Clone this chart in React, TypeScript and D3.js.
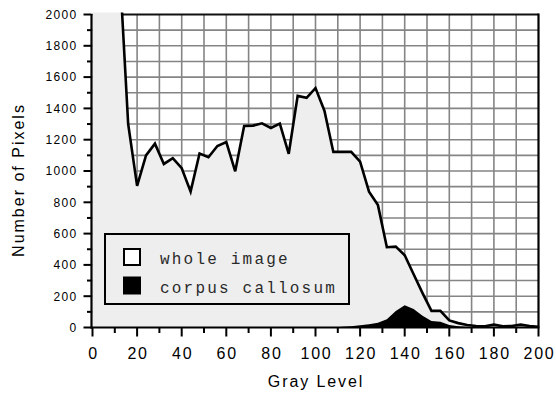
import React from "react";
import * as d3 from "d3";

const grayLevels = d3.range(0, 201, 4);
const wholeImage = [
  9000, 7000, 4500, 2340, 1300, 905, 1100, 1175, 1045, 1082, 1018, 868, 1112,
  1088, 1160, 1185, 998, 1288, 1290, 1305, 1275, 1303, 1110, 1480, 1468, 1530,
  1385, 1122, 1122, 1122, 1060, 868, 782, 513, 517, 462, 340, 220, 106, 106, 45,
  28, 16, 10, 8, 18, 8, 10, 18, 10, 5,
];
const corpusCallosum = [
  0, 0, 0, 0, 0, 0, 0, 0, 0, 0, 0, 0, 0, 0, 0, 0, 0, 0, 0, 0, 0, 0, 0, 0, 0, 0,
  0, 0, 4, 8, 14, 20, 30, 52, 105, 142, 118, 75, 42, 36, 16, 8, 3, 0, 0, 0, 0,
  0, 0, 0, 0,
];
const xTicksMajor = [0, 20, 40, 60, 80, 100, 120, 140, 160, 180, 200];
const yTicksMajor = [0, 200, 400, 600, 800, 1000, 1200, 1400, 1600, 1800, 2000];
const legendLabels = ["whole image", "corpus callosum"];

export default function App() {
  const W = 556,
    H = 395;
  const x = d3.scaleLinear().domain([0, 200]).range([92.5, 538.5]);
  const y = d3.scaleLinear().domain([0, 2000]).range([327.5, 14.5]);
  const whole = grayLevels.map((g, i) => [g, wholeImage[i]] as [number, number]);
  const corpus = grayLevels.map((g, i) => [g, corpusCallosum[i]] as [number, number]);
  const area = d3
    .area<[number, number]>()
    .x((d) => x(d[0]))
    .y0(y(0))
    .y1((d) => y(d[1]));
  const line = d3
    .line<[number, number]>()
    .x((d) => x(d[0]))
    .y((d) => y(d[1]));
  const xMinor = d3.range(0, 201, 10);
  const yMinor = d3.range(0, 2001, 100);
  const gridX = d3.range(10, 200, 10);
  const gridY = d3.range(100, 2000, 100);
  const sans = "'Liberation Sans', Arial, Helvetica, sans-serif";
  return (
    <svg
      width={W}
      height={H}
      style={{ position: "absolute", left: 0, top: 0, background: "#fff" }}
    >
      <defs>
        <clipPath id="plotClip">
          <rect x={x(0)} y={y(2000) - 2} width={x(200) - x(0)} height={y(0) - y(2000) + 2} />
        </clipPath>
      </defs>
      <rect x={0} y={0} width={W} height={H} fill="#fff" />
      {gridX.map((g) => (
        <line key={"gx" + g} x1={x(g)} x2={x(g)} y1={y(0)} y2={y(2000)} stroke="#858585" strokeWidth={1.6} />
      ))}
      {gridY.map((g) => (
        <line key={"gy" + g} x1={x(0)} x2={x(200)} y1={y(g)} y2={y(g)} stroke="#858585" strokeWidth={1.6} />
      ))}
      <line x1={x(0)} x2={x(200)} y1={y(2000)} y2={y(2000)} stroke="#111" strokeWidth={2} />
      <line x1={x(200)} x2={x(200)} y1={y(2000) - 1} y2={y(0)} stroke="#000" strokeWidth={2.2} />
      <g clipPath="url(#plotClip)">
        <path d={area(whole) || ""} fill="#eeeeee" />
        <path d={area(corpus) || ""} fill="#000" />
        <path d={line(whole) || ""} fill="none" stroke="#000" strokeWidth={2.6} strokeLinejoin="miter" />
      </g>
      {/* axes */}
      <line x1={x(0) - 1} x2={x(0) - 1} y1={y(2000) - 0.5} y2={y(0) + 1} stroke="#000" strokeWidth={2.2} />
      <line x1={x(0) - 2} x2={x(200) + 1} y1={y(0)} y2={y(0)} stroke="#000" strokeWidth={2.2} />
      {yMinor.map((v) => (
        <line
          key={"yt" + v}
          x1={x(0) - 1}
          x2={x(0) - 1 - (v % 200 === 0 ? 8 : 4.5)}
          y1={y(v)}
          y2={y(v)}
          stroke="#000"
          strokeWidth={2}
        />
      ))}
      {xMinor.map((v) => (
        <line
          key={"xt" + v}
          x1={x(v)}
          x2={x(v)}
          y1={y(0)}
          y2={y(0) + (v % 20 === 0 ? 9 : 5.5)}
          stroke="#000"
          strokeWidth={2}
        />
      ))}
      {yTicksMajor.map((v) => (
        <text
          key={"yl" + v}
          x={77.5}
          y={y(v) + 4.3}
          textAnchor="end"
          fontFamily={sans}
          fontSize={12}
          letterSpacing={1.3}
          fill="#000"
        >
          {v}
        </text>
      ))}
      {xTicksMajor.map((v) => (
        <text
          key={"xl" + v}
          x={x(v) + 1}
          y={358.5}
          textAnchor="middle"
          fontFamily={sans}
          fontSize={16}
          letterSpacing={1.8}
          fill="#000"
        >
          {v}
        </text>
      ))}
      <text
        x={316}
        y={386.5}
        textAnchor="middle"
        fontFamily={sans}
        fontSize={16}
        letterSpacing={1.9}
        fill="#000"
      >
        Gray Level
      </text>
      <text
        transform={`translate(23.5, 180) rotate(-90)`}
        textAnchor="middle"
        fontFamily={sans}
        fontSize={16}
        letterSpacing={2}
        fill="#000"
      >
        Number of Pixels
      </text>
      {/* legend */}
      <rect x={105} y={234} width={244} height={70} fill="#eeeeee" stroke="#000" strokeWidth={2} />
      <rect x={124} y={249} width={16} height={16} fill="#fff" stroke="#000" strokeWidth={2} />
      <rect x={123} y={276.5} width={18} height={18} fill="#000" />
      {legendLabels.map((t, i) => (
        <text
          key={t}
          x={160}
          y={264 + i * 29}
          fontFamily="'Liberation Mono', 'DejaVu Sans Mono', monospace"
          fontSize={16}
          letterSpacing={2.2}
          fill="#2a2a2a"
        >
          {t}
        </text>
      ))}
    </svg>
  );
}
